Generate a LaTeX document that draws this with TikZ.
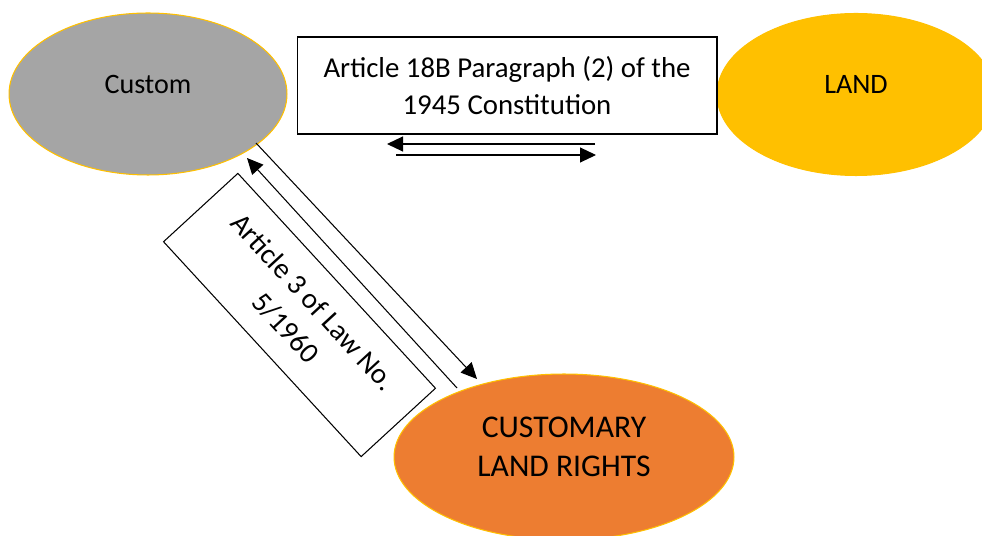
\documentclass[tikz,border=0pt]{standalone}
\usepackage{fontspec}
\setmainfont{Carlito}
\usetikzlibrary{arrows.meta,shapes.geometric}
\definecolor{grey}{HTML}{A5A5A5}
\definecolor{gold}{HTML}{FFC000}
\definecolor{tang}{HTML}{ED7D31}

\begin{document}
\begin{tikzpicture}[x=0.02cm,y=-0.02cm,
  el/.style={ellipse,draw=gold,line width=0.6pt,minimum width=5.56cm,minimum height=3.24cm,text depth=0.4cm,font=\fontsize{16}{20}\selectfont},
  bx/.style={draw,line width=0.6pt,align=center,font=\fontsize{16.4}{21.5}\selectfont},
  ar/.style={-{Triangle[length=0.32cm,width=0.3cm]},line width=0.6pt}]
  \useasboundingbox (0,0) rectangle (982,536);
  \node[el,fill=grey] (custom) at (148,94) {Custom};
  \node[el,fill=gold] (land) at (856,94.5) {LAND};
  \node[el,fill=tang,minimum width=6.8cm,minimum height=3.32cm,align=center,font=\fontsize{18}{22}\selectfont] (rights) at (564,457) {CUSTOMARY\\LAND RIGHTS};
  \node[bx,minimum width=8.4cm,minimum height=1.94cm] (art18) at (507,85.5) {Article 18B Paragraph (2) of the\\1945 Constitution};
  \node[bx,minimum width=5.84cm,minimum height=2.02cm,rotate=-47.4] (law) at (299.5,315) {Article 3 of Law No.\\5/1960};
  % arrow ends
  \coordinate (lfrom) at (595,144);
  \coordinate (lto) at (387,144);
  \coordinate (rfrom) at (396,155);
  \coordinate (rto) at (596,155);
  \coordinate (dfrom) at (256,143);
  \coordinate (dto) at (477,379);
  \coordinate (ufrom) at (457,388);
  \coordinate (uto) at (247,158);
  \draw[ar] (lfrom) -- (lto);
  \draw[ar] (rfrom) -- (rto);
  \draw[ar] (dfrom) -- (dto);
  \draw[ar] (ufrom) -- (uto);
\end{tikzpicture}
\end{document}
